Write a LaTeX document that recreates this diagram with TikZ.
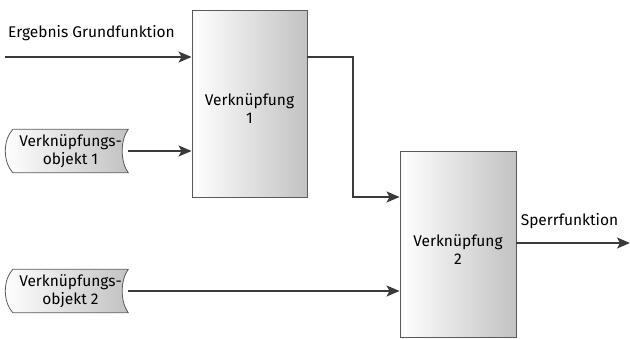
\documentclass[tikz,border=0pt]{standalone}
\usepackage{fontspec}
\setmainfont{Fira Sans}
\usetikzlibrary{arrows.meta,positioning,backgrounds}
\definecolor{LineColor}{HTML}{3A3A3A}
\definecolor{EdgeColor}{HTML}{5A5A5A}
\definecolor{ShadeColor}{HTML}{C2C2C2}
\tikzset{
    txt/.style={font=\fontsize{15.5}{18}\selectfont, text=black},
    logicbox/.style={rectangle, draw=EdgeColor, line width=0.9pt, left color=white, right color=ShadeColor, align=center, txt},
    objbox/.style={rectangle, minimum width=115pt, minimum height=43pt, inner sep=0pt, align=center, txt},
    objshape/.style={draw=EdgeColor, line width=0.8pt, left color=white, right color=ShadeColor},
    connection/.style={-{Stealth[length=13pt,width=11pt,inset=3pt]}, draw=LineColor, line width=1.4pt}
}
% tape shape drawn from the anchors of an objbox node
\newcommand{\objoutline}[1]{%
  \path[objshape] (#1.north west) .. controls ([xshift=-10pt,yshift=-11pt]#1.north west) and ([xshift=-10pt,yshift=11pt]#1.south west) .. (#1.south west)
    -- (#1.south east) .. controls ([xshift=-8pt,yshift=11pt]#1.south east) and ([xshift=-8pt,yshift=-11pt]#1.north east) .. (#1.north east) -- cycle;}

\begin{document}
\begin{tikzpicture}[x=1pt, y=-1pt]
\useasboundingbox (0,0) rectangle (630,338);

% Logic boxes
\node (box1) [logicbox, minimum width=115pt, minimum height=187pt] at (249.5,103.5) {\rule{0pt}{22pt}Verknüpfung\\1};
\node (box2) [logicbox, minimum width=116pt, minimum height=186pt] at (458,244) {\rule{0pt}{22pt}Verknüpfung\\2};

% Link objects
\node (obj1) [objbox] at (70.5,151) {Verknüpfungs-\\objekt 1};
\node (obj2) [objbox] at (70.5,291) {Verknüpfungs-\\objekt 2};
\begin{scope}[on background layer]
\objoutline{obj1}
\objoutline{obj2}
\end{scope}

% Input and output
\coordinate (inp) at (5,57);
\coordinate (knee) at (353,197);
\coordinate (out) at (630,243);
\node (lblin) [txt] at (91.5,33) {Ergebnis Grundfunktion};
\node (lblout) [txt] at (569.5,221) {Sperrfunktion};

% Connections
\draw [connection] (inp) -- (inp -| box1.west);
\draw [connection] (obj1) -- (obj1 -| box1.west);
\draw [connection] (box1.east |- inp) -| (knee) -- (knee -| box2.west);
\draw [connection] (obj2.east) -- (obj2 -| box2.west);
\draw [connection] (box2.east |- out) -- (out);

\end{tikzpicture}
\end{document}
